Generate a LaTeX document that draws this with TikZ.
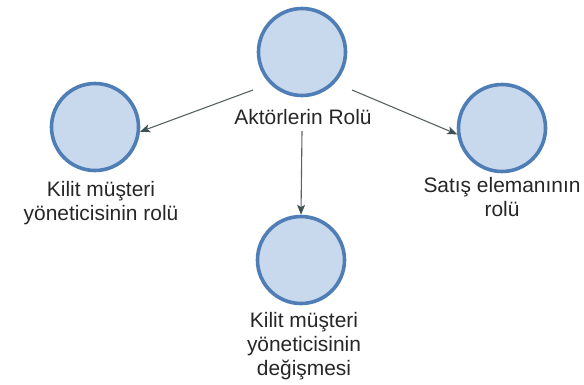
\documentclass[tikz,border=0pt]{standalone}
\usepackage{fontspec}
\setmainfont{Liberation Sans}
\usetikzlibrary{arrows.meta}
\definecolor{ringblue}{RGB}{79,125,182}
\definecolor{fillblue}{RGB}{200,216,237}
\definecolor{linegray}{RGB}{88,98,98}
\definecolor{tipgray}{RGB}{60,82,82}
\begin{document}
\begin{tikzpicture}[x=1bp,y=-1bp,
  actor/.style={circle, draw=ringblue, line width=3.6bp, fill=fillblue, minimum size=87bp, inner sep=0pt},
  lbl/.style={anchor=north, align=center, inner sep=0pt, font=\fontsize{21}{24}\selectfont, text=black!85},
  conn/.style={draw=linegray, line width=1.1bp, -{Stealth[length=10bp,width=8bp,inset=2.5bp,color=tipgray]}}]
\useasboundingbox (0,0) rectangle (584,384);
\node[actor] (top) at (302,52) {};
\node[actor] (left) at (95,127) {};
\node[actor] (right) at (502,128) {};
\node[actor] (bottom) at (301,260) {};
\node[lbl] (ltop) at (303,109) {Aktörlerin Rolü};
\node[lbl] (lleft) at (101,181) {Kilit müşteri\\yöneticisinin rolü};
\node[lbl] (lright) at (502,177) {Satış elemanının\\rolü};
\node[lbl] (lbottom) at (304,312) {Kilit müşteri\\yöneticisinin\\değişmesi};
\coordinate (sl) at (253,90);
\coordinate (sr) at (352,90);
\coordinate (sd) at (302,131);
\draw[conn] (sl) -- (left.-6);
\draw[conn] (sr) -- (right.188);
\draw[conn] (sd) -- (bottom.north);
\end{tikzpicture}
\end{document}
